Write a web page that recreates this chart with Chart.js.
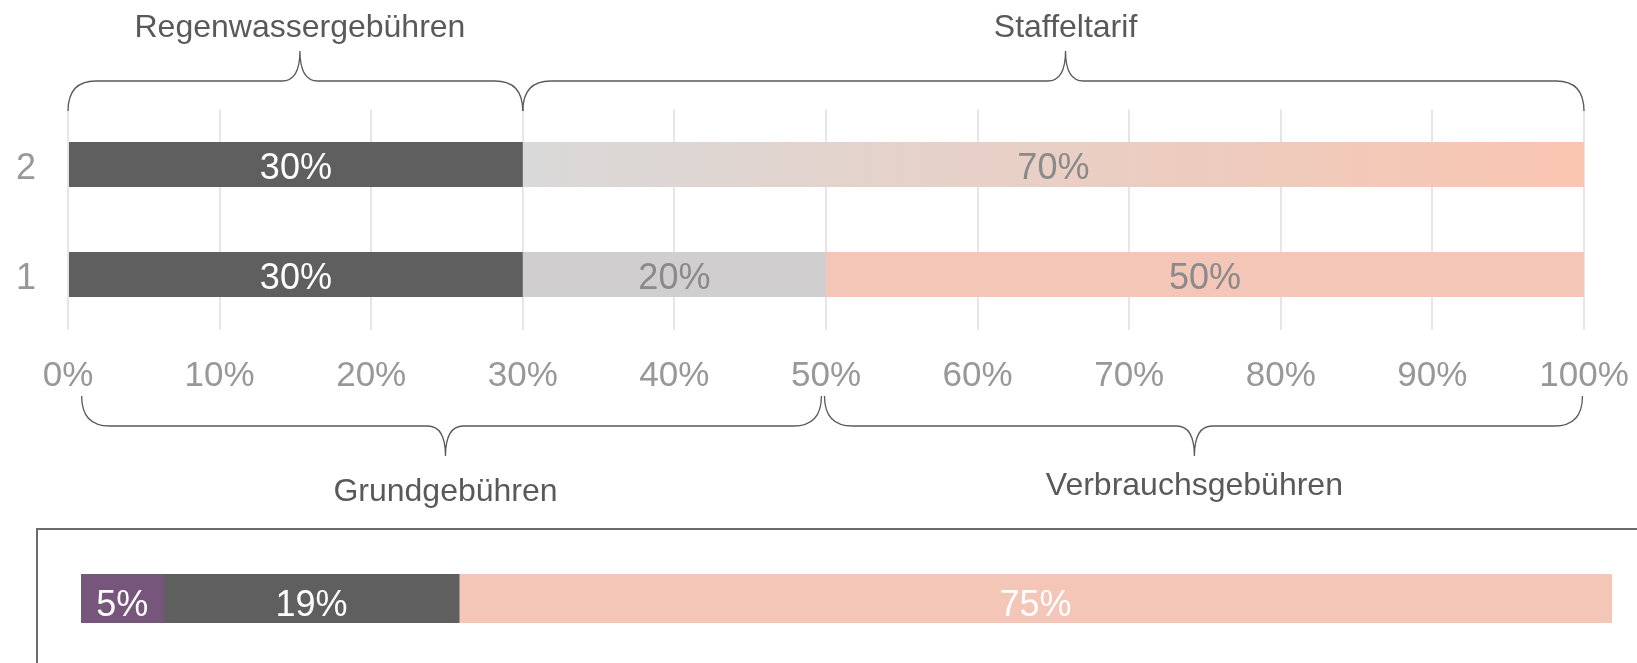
<!DOCTYPE html>
<html>
<head>
<meta charset="utf-8">
<script src="https://cdn.jsdelivr.net/npm/chart.js@4.4.0/dist/chart.umd.min.js"></script>
<style>
  body { margin: 0; background: #fff; width: 1637px; height: 663px; overflow: hidden; position: relative; }
  .box { position: absolute; left: 36px; top: 528px; width: 1700px; height: 200px; border: 2px solid #6b6b6b; box-sizing: border-box; }
  #topChart { position: absolute; left: 0; top: 0; }
  #bottomChart { position: absolute; left: 0; top: 529px; }
</style>
</head>
<body>
<div class="box"></div>
<canvas id="topChart" width="1637" height="520"></canvas>
<canvas id="bottomChart" width="1637" height="134"></canvas>
<script>
// top chart: two rows, shares in %
const rowLabels = ["2", "1"];
const darkShare = [30, 30];
const lightShare = [70, 20];
const salmonShare = [0, 50];

// braces over / under the top chart (values on the % axis)
const topBraces = [
  { label: "Regenwassergebühren", from: 0, to: 30, tip: 15.3 },
  { label: "Staffeltarif", from: 30, to: 100, tip: 65.8 }
];
const bottomBraces = [
  { label: "Grundgebühren", from: 0.9, to: 49.7, tip: 24.9 },
  { label: "Verbrauchsgebühren", from: 49.9, to: 99.9, tip: 74.3 }
];

// bottom bar
const bottomNames = ["Regenwasser", "Grund", "Verbrauch"];
const bottomShares = [5.4, 19.3, 75.3];
const bottomColors = ["#76567b", "#5f5f5f", "#f4c6b8"];

const fontFamily = "'Liberation Sans', Arial, sans-serif";
const DARK = "#5f5f5f";
const LIGHT = "#d0cece";
const SALMON = "#f4c6b8";

// text y for the labels under the lower braces
const bottomBraceTextY = [492, 486];

const segmentLabels = {
  id: "segmentLabels",
  afterDatasetsDraw(chart, args, opts) {
    const ctx = chart.ctx;
    const dy = opts.dy || 0;
    ctx.save();
    ctx.font = "36px " + fontFamily;
    ctx.textAlign = "center";
    ctx.textBaseline = "middle";
    chart.data.datasets.forEach((ds, i) => {
      const meta = chart.getDatasetMeta(i);
      meta.data.forEach((bar, j) => {
        const v = ds.data[j];
        if (!v) return;
        ctx.fillStyle = Array.isArray(ds.labelColor) ? ds.labelColor[j] : ds.labelColor;
        ctx.fillText(Math.round(v) + "%", (bar.x + bar.base) / 2, bar.y + dy);
      });
    });
    ctx.restore();
  }
};

const drawBrace = (ctx, x1, x2, xt, yEnd, yFlat, yTip) => {
  const r = 28, rt = 18;
  ctx.beginPath();
  ctx.moveTo(x1, yEnd);
  ctx.quadraticCurveTo(x1, yFlat, x1 + r, yFlat);
  ctx.lineTo(xt - rt, yFlat);
  ctx.quadraticCurveTo(xt, yFlat, xt, yTip);
  ctx.quadraticCurveTo(xt, yFlat, xt + rt, yFlat);
  ctx.lineTo(x2 - r, yFlat);
  ctx.quadraticCurveTo(x2, yFlat, x2, yEnd);
  ctx.stroke();
};

const bracePlugin = {
  id: "braces",
  afterDraw(chart) {
    const ctx = chart.ctx;
    const x = chart.scales.x;
    ctx.save();
    ctx.strokeStyle = "#5a5a5a";
    ctx.lineWidth = 1.3;
    ctx.fillStyle = "#595959";
    ctx.font = "32px " + fontFamily;
    ctx.textAlign = "center";
    ctx.textBaseline = "middle";
    topBraces.forEach(b => {
      const xt = x.getPixelForValue(b.tip);
      drawBrace(ctx, x.getPixelForValue(b.from), x.getPixelForValue(b.to), xt, 111, 81, 51);
      ctx.fillText(b.label, xt, 28);
    });
    bottomBraces.forEach((b, i) => {
      const xt = x.getPixelForValue(b.tip);
      drawBrace(ctx, x.getPixelForValue(b.from), x.getPixelForValue(b.to), xt, 396, 426, 456);
      ctx.fillText(b.label, xt, bottomBraceTextY[i]);
    });
    ctx.restore();
  }
};

const staffelGradient = (context) => {
  const chart = context.chart;
  if (!chart.chartArea) return LIGHT;
  const x = chart.scales.x;
  const g = chart.ctx.createLinearGradient(x.getPixelForValue(30), 0, x.getPixelForValue(100), 0);
  g.addColorStop(0, "#d9d9d9");
  g.addColorStop(1, "#f9c5b0");
  return g;
};

new Chart(document.getElementById("topChart"), {
  type: "bar",
  data: {
    labels: rowLabels,
    datasets: [
      { data: darkShare, backgroundColor: DARK, labelColor: "#ffffff" },
      {
        data: lightShare,
        backgroundColor: (c) => c.dataIndex === 0 ? staffelGradient(c) : LIGHT,
        labelColor: "#8a8a8a"
      },
      { data: salmonShare, backgroundColor: SALMON, labelColor: "#8a8a8a" }
    ]
  },
  options: {
    indexAxis: "y",
    responsive: false,
    animation: false,
    barPercentage: 0.41,
    categoryPercentage: 1,
    layout: { padding: { left: 0, right: 53, top: 109.5, bottom: 0 } },
    plugins: {
      legend: { display: false },
      tooltip: { enabled: false },
      segmentLabels: { dy: 5 }
    },
    scales: {
      x: {
        stacked: true,
        min: 0,
        max: 100,
        grid: { color: "#e6e6e6", lineWidth: 2, drawTicks: false },
        border: { display: false },
        ticks: {
          stepSize: 10,
          autoSkip: false,
          maxRotation: 0,
          padding: 26,
          color: "#989898",
          font: { size: 35, family: fontFamily },
          callback: v => v + "%"
        },
        afterFit: s => {
          s.height = 190.5;
          s.paddingLeft = 0;
          s.paddingRight = 0;
        }
      },
      y: {
        stacked: true,
        grid: { display: false, drawTicks: false },
        border: { display: false },
        ticks: { padding: 32, labelOffset: 5, color: "#989898", font: { size: 36, family: fontFamily } },
        afterFit: s => { s.width = 68; }
      }
    }
  },
  plugins: [segmentLabels, bracePlugin]
});

new Chart(document.getElementById("bottomChart"), {
  type: "bar",
  data: {
    labels: [""],
    datasets: bottomShares.map((v, i) => ({
      label: bottomNames[i],
      data: [v],
      backgroundColor: bottomColors[i],
      labelColor: "#ffffff"
    }))
  },
  options: {
    indexAxis: "y",
    responsive: false,
    animation: false,
    barPercentage: 1,
    categoryPercentage: 1,
    layout: { padding: { left: 81, right: 25, top: 45, bottom: 40 } },
    plugins: {
      legend: { display: false },
      tooltip: { enabled: false },
      segmentLabels: { dy: 8 }
    },
    scales: {
      x: { stacked: true, min: 0, max: 100, display: false },
      y: { stacked: true, display: false }
    }
  },
  plugins: [segmentLabels]
});
</script>
</body>
</html>
